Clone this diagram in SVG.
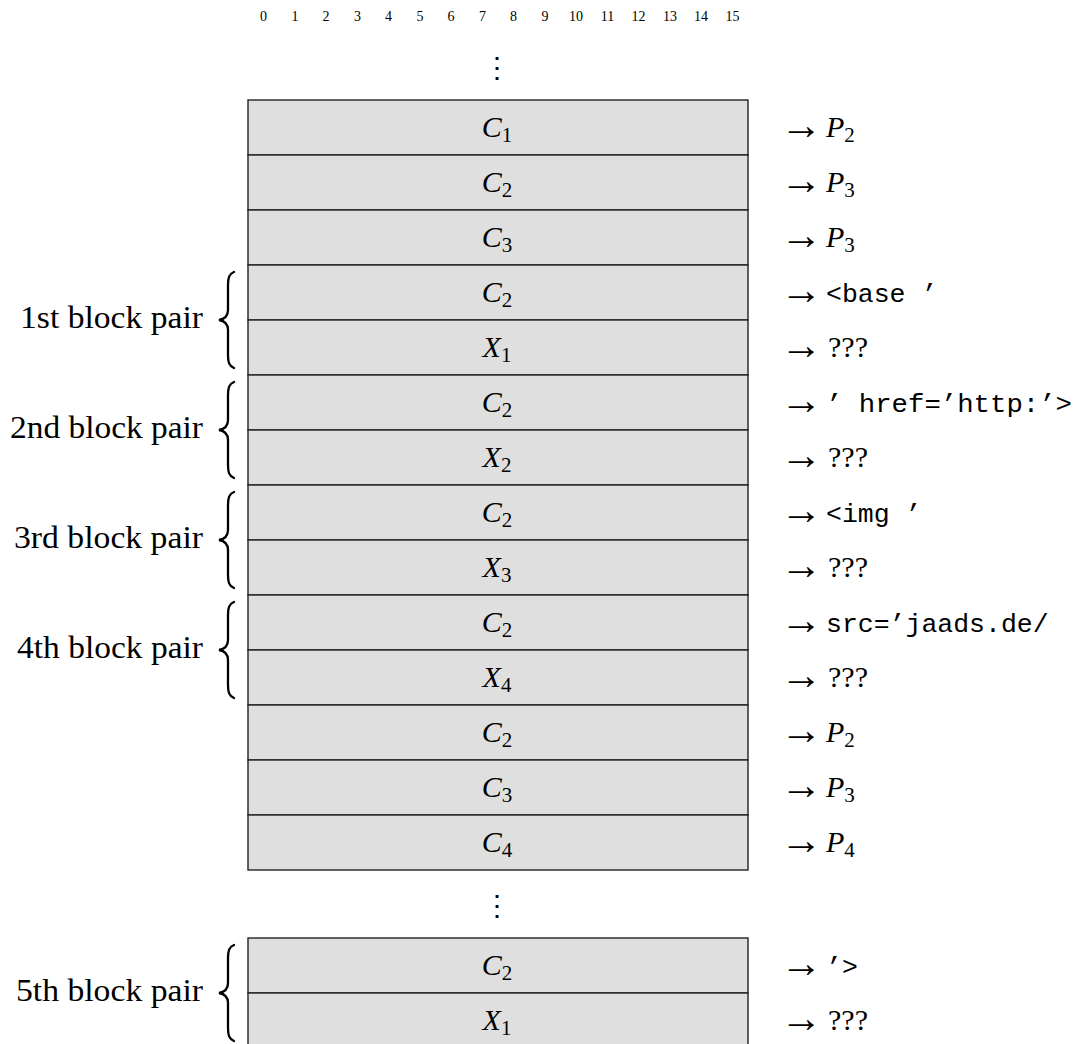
<svg xmlns="http://www.w3.org/2000/svg" width="1085" height="1044" viewBox="0 0 1085 1044">
  <style>
    .cell { fill: #dfdfdf; stroke: #222; stroke-width: 1.4; }
    .math { font-family: "Liberation Serif", serif; font-size: 30px; font-style: italic; fill: #000; }
    .sub { font-style: normal; font-size: 21px; }
    .rm { font-family: "Liberation Serif", serif; font-size: 30px; fill: #000; }
    .lbl { font-family: "Liberation Serif", serif; font-size: 31px; fill: #000; }
    .arr { font-family: "Liberation Serif", serif; font-size: 42px; fill: #000; }
    .tt { font-family: "Liberation Mono", monospace; font-size: 26.5px; fill: #000; }
    .idx { font-family: "Liberation Serif", serif; font-size: 14px; fill: #000; text-anchor: middle; }
    .dots { font-family: "DejaVu Serif", serif; font-size: 28px; fill: #000; text-anchor: middle; }
    .brace { fill: none; stroke: #000; stroke-width: 2.3; stroke-linecap: round; }
  </style>
  <defs>
    <!-- left curly brace spanning two rows, tip at origin -->
    <path id="brace" class="brace" d="M 15 -48 C 10 -46 9 -42 9 -35 L 9 -10 C 9 -4 6 -1 0 0 C 6 1 9 4 9 10 L 9 35 C 9 42 10 46 15 48"/>
  </defs>
  <rect width="1085" height="1044" fill="#fff"/>

  <!-- byte index ruler -->
  <g id="ruler">
    <text class="idx" x="263.6" y="21">0</text>
    <text class="idx" x="294.9" y="21">1</text>
    <text class="idx" x="326.1" y="21">2</text>
    <text class="idx" x="357.4" y="21">3</text>
    <text class="idx" x="388.6" y="21">4</text>
    <text class="idx" x="419.9" y="21">5</text>
    <text class="idx" x="451.1" y="21">6</text>
    <text class="idx" x="482.4" y="21">7</text>
    <text class="idx" x="513.6" y="21">8</text>
    <text class="idx" x="544.9" y="21">9</text>
    <text class="idx" x="576.1" y="21">10</text>
    <text class="idx" x="607.4" y="21">11</text>
    <text class="idx" x="638.6" y="21">12</text>
    <text class="idx" x="669.9" y="21">13</text>
    <text class="idx" x="701.1" y="21">14</text>
    <text class="idx" x="732.4" y="21">15</text>
  </g>

  <text class="dots" x="497" y="77">⋮</text>

  <!-- cipher blocks -->
  <g id="blocks">
    <g id="row1"><rect class="cell" x="248" y="100" width="500" height="55"/><text class="math" x="497" y="137" text-anchor="middle">C<tspan class="sub" dy="5">1</tspan></text></g>
    <g id="row2"><rect class="cell" x="248" y="155" width="500" height="55"/><text class="math" x="497" y="192" text-anchor="middle">C<tspan class="sub" dy="5">2</tspan></text></g>
    <g id="row3"><rect class="cell" x="248" y="210" width="500" height="55"/><text class="math" x="497" y="247" text-anchor="middle">C<tspan class="sub" dy="5">3</tspan></text></g>
    <g id="row4"><rect class="cell" x="248" y="265" width="500" height="55"/><text class="math" x="497" y="302" text-anchor="middle">C<tspan class="sub" dy="5">2</tspan></text></g>
    <g id="row5"><rect class="cell" x="248" y="320" width="500" height="55"/><text class="math" x="497" y="357" text-anchor="middle">X<tspan class="sub" dy="5">1</tspan></text></g>
    <g id="row6"><rect class="cell" x="248" y="375" width="500" height="55"/><text class="math" x="497" y="412" text-anchor="middle">C<tspan class="sub" dy="5">2</tspan></text></g>
    <g id="row7"><rect class="cell" x="248" y="430" width="500" height="55"/><text class="math" x="497" y="467" text-anchor="middle">X<tspan class="sub" dy="5">2</tspan></text></g>
    <g id="row8"><rect class="cell" x="248" y="485" width="500" height="55"/><text class="math" x="497" y="522" text-anchor="middle">C<tspan class="sub" dy="5">2</tspan></text></g>
    <g id="row9"><rect class="cell" x="248" y="540" width="500" height="55"/><text class="math" x="497" y="577" text-anchor="middle">X<tspan class="sub" dy="5">3</tspan></text></g>
    <g id="row10"><rect class="cell" x="248" y="595" width="500" height="55"/><text class="math" x="497" y="632" text-anchor="middle">C<tspan class="sub" dy="5">2</tspan></text></g>
    <g id="row11"><rect class="cell" x="248" y="650" width="500" height="55"/><text class="math" x="497" y="687" text-anchor="middle">X<tspan class="sub" dy="5">4</tspan></text></g>
    <g id="row12"><rect class="cell" x="248" y="705" width="500" height="55"/><text class="math" x="497" y="742" text-anchor="middle">C<tspan class="sub" dy="5">2</tspan></text></g>
    <g id="row13"><rect class="cell" x="248" y="760" width="500" height="55"/><text class="math" x="497" y="797" text-anchor="middle">C<tspan class="sub" dy="5">3</tspan></text></g>
    <g id="row14"><rect class="cell" x="248" y="815" width="500" height="55"/><text class="math" x="497" y="852" text-anchor="middle">C<tspan class="sub" dy="5">4</tspan></text></g>
  </g>

  <text class="dots" x="497" y="915">⋮</text>

  <g id="blocks-tail">
    <g id="row15"><rect class="cell" x="248" y="938" width="500" height="55"/><text class="math" x="497" y="975" text-anchor="middle">C<tspan class="sub" dy="5">2</tspan></text></g>
    <g id="row16"><rect class="cell" x="248" y="993" width="500" height="55"/><text class="math" x="497" y="1030" text-anchor="middle">X<tspan class="sub" dy="5">1</tspan></text></g>
  </g>

  <!-- decryption arrows -->
  <g id="arrows">
    <text class="arr" x="780" y="139">→</text>
    <text class="arr" x="780" y="194">→</text>
    <text class="arr" x="780" y="249">→</text>
    <text class="arr" x="780" y="304">→</text>
    <text class="arr" x="780" y="359">→</text>
    <text class="arr" x="780" y="414">→</text>
    <text class="arr" x="780" y="469">→</text>
    <text class="arr" x="780" y="524">→</text>
    <text class="arr" x="780" y="579">→</text>
    <text class="arr" x="780" y="634">→</text>
    <text class="arr" x="780" y="689">→</text>
    <text class="arr" x="780" y="744">→</text>
    <text class="arr" x="780" y="799">→</text>
    <text class="arr" x="780" y="854">→</text>
    <text class="arr" x="780" y="977">→</text>
    <text class="arr" x="780" y="1032">→</text>
  </g>

  <!-- decrypted plaintext per block -->
  <g id="plaintext">
    <text class="math" x="826" y="137">P<tspan class="sub" dy="5">2</tspan></text>
    <text class="math" x="826" y="192">P<tspan class="sub" dy="5">3</tspan></text>
    <text class="math" x="826" y="247">P<tspan class="sub" dy="5">3</tspan></text>
    <text class="tt" x="826" y="302">&lt;base ’</text>
    <text class="rm" x="828" y="357">???</text>
    <text class="tt" x="826" y="412" textLength="246" lengthAdjust="spacingAndGlyphs">’ href=’http:’&gt;</text>
    <text class="rm" x="828" y="467">???</text>
    <text class="tt" x="826" y="522">&lt;img ’</text>
    <text class="rm" x="828" y="577">???</text>
    <text class="tt" x="826" y="632">src=’jaads.de/</text>
    <text class="rm" x="828" y="687">???</text>
    <text class="math" x="826" y="742">P<tspan class="sub" dy="5">2</tspan></text>
    <text class="math" x="826" y="797">P<tspan class="sub" dy="5">3</tspan></text>
    <text class="math" x="826" y="852">P<tspan class="sub" dy="5">4</tspan></text>
    <text class="tt" x="826" y="975">’&gt;</text>
    <text class="rm" x="828" y="1030">???</text>
  </g>

  <!-- block pair braces and labels -->
  <g id="pair1"><use href="#brace" x="219" y="320"/><text class="lbl" x="20" y="328" textLength="183" lengthAdjust="spacingAndGlyphs">1st block pair</text></g>
  <g id="pair2"><use href="#brace" x="219" y="430"/><text class="lbl" x="10" y="438" textLength="193" lengthAdjust="spacingAndGlyphs">2nd block pair</text></g>
  <g id="pair3"><use href="#brace" x="219" y="540"/><text class="lbl" x="14" y="548" textLength="189" lengthAdjust="spacingAndGlyphs">3rd block pair</text></g>
  <g id="pair4"><use href="#brace" x="219" y="650"/><text class="lbl" x="17" y="658" textLength="186" lengthAdjust="spacingAndGlyphs">4th block pair</text></g>
  <g id="pair5"><use href="#brace" x="219" y="993"/><text class="lbl" x="16" y="1001" textLength="187" lengthAdjust="spacingAndGlyphs">5th block pair</text></g>
</svg>
